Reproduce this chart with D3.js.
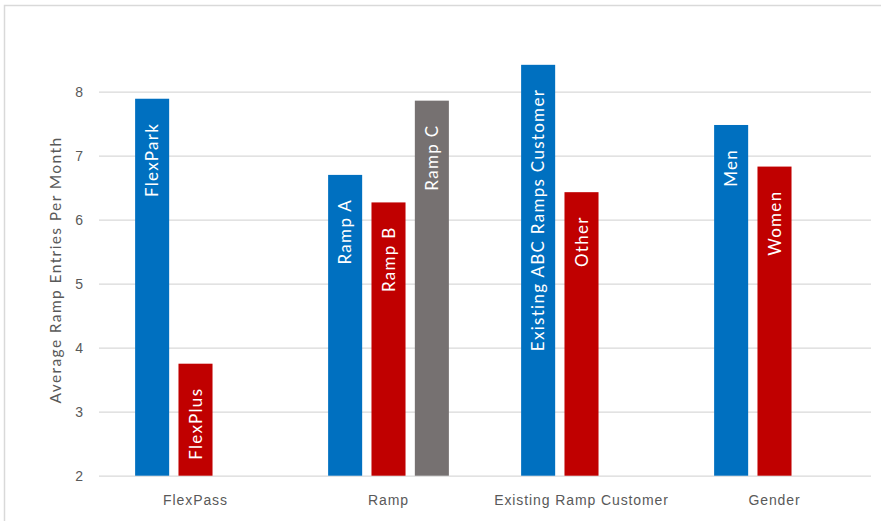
<!DOCTYPE html>
<html>
<head>
<meta http-equiv="Content-Type" content="text/html; charset=UTF-8">
<style>
body { margin: 0; background: #fff; }
svg { font-family: Lato, "Open Sans", sans-serif; }
.grid line { stroke: #d9d9d9; stroke-width: 1.3px; }
.tick text { fill: #595959; }
</style>
</head>
<body>
<svg width="881" height="521"></svg>
<script src="https://cdn.jsdelivr.net/npm/d3@7"></script>
<script>

var categories = ["FlexPass", "Ramp", "Existing Ramp Customer", "Gender"];
var seriesKeys = ["s1", "s2", "s3"];
var seriesColors = ["#0070c0", "#c00000", "#767171"];

// per category, one value per series slot (null = no bar)
var s1Values = [7.89, 6.70, 8.42, 7.48];
var s2Values = [3.75, 6.27, 6.43, 6.83];
var s3Values = [null, 7.86, null, null];

var s1Labels = ["FlexPark", "Ramp A", "Existing ABC Ramps Customer", "Men"];
var s2Labels = ["FlexPlus", "Ramp B", "Other", "Women"];
var s3Labels = [null, "Ramp C", null, null];

var yTicks = [2, 3, 4, 5, 6, 7, 8];

var svg = d3.select("svg");

// outer frame (only left and top edges show in the picture)
svg.append("path")
    .attr("d", "M4.5,521 V5.5 H881")
    .attr("fill", "none")
    .attr("stroke", "#d9d9d9")
    .attr("stroke-width", 1.5);

var x = d3.scaleBand()
    .domain(categories)
    .range([99, 871])
    .paddingInner(0.326)
    .paddingOuter(0.163);

var xs = d3.scaleBand()
    .domain(seriesKeys)
    .range([0, x.bandwidth()])
    .paddingInner(0.215)
    .paddingOuter(0.1075);

var y = d3.scaleLinear()
    .domain([2, 8.5])
    .range([475.7, 59.7]);

// gridlines
svg.append("g")
    .attr("class", "grid")
    .attr("transform", "translate(99,0)")
    .call(d3.axisLeft(y).tickValues(yTicks).tickSize(-772).tickFormat(""))
    .call(function(g) { g.select(".domain").remove(); });

// y tick labels
svg.append("g")
    .attr("transform", "translate(83,0)")
    .call(d3.axisLeft(y).tickValues(yTicks).tickSize(0).tickPadding(0).tickFormat(d3.format("d")))
    .call(function(g) { g.select(".domain").remove(); })
    .selectAll("text")
      .style("font-size", "14px")
      .attr("text-anchor", "end");

// category labels
svg.append("g")
    .attr("transform", "translate(0,476)")
    .call(d3.axisBottom(x).tickSize(0).tickPadding(19))
    .call(function(g) { g.select(".domain").remove(); })
    .selectAll("text")
      .style("font-size", "14px")
      .style("letter-spacing", "0.9px");

svg.append("text")
    .attr("transform", "translate(61,270) rotate(-90)")
    .attr("text-anchor", "middle")
    .attr("fill", "#595959")
    .style("font-size", "15.5px")
    .style("letter-spacing", "1.4px")
    .text("Average Ramp Entries Per Month");

var bars = [];
var vals = [s1Values, s2Values, s3Values];
var labs = [s1Labels, s2Labels, s3Labels];
categories.forEach(function(c, i) {
  seriesKeys.forEach(function(k, j) {
    if (vals[j][i] != null) {
      bars.push({ cat: c, key: k, value: vals[j][i], label: labs[j][i], color: seriesColors[j] });
    }
  });
});

svg.append("g").selectAll("rect")
    .data(bars)
  .enter().append("rect")
    .attr("x", function(d) { return x(d.cat) + xs(d.key); })
    .attr("y", function(d) { return y(d.value); })
    .attr("width", xs.bandwidth())
    .attr("height", function(d) { return y(2) - y(d.value); })
    .attr("fill", function(d) { return d.color; });

svg.append("g").selectAll("text")
    .data(bars)
  .enter().append("text")
    .attr("transform", function(d) {
      var cx = x(d.cat) + xs(d.key) + xs.bandwidth() / 2;
      return "translate(" + cx + "," + (y(d.value) + 24) + ") rotate(-90)";
    })
    .attr("text-anchor", "end")
    .attr("dy", "0.36em")
    .attr("fill", "#fff")
    .style("font-size", "17px")
    .style("letter-spacing", "1.3px")
    .text(function(d) { return d.label; });

</script>
</body></html>
